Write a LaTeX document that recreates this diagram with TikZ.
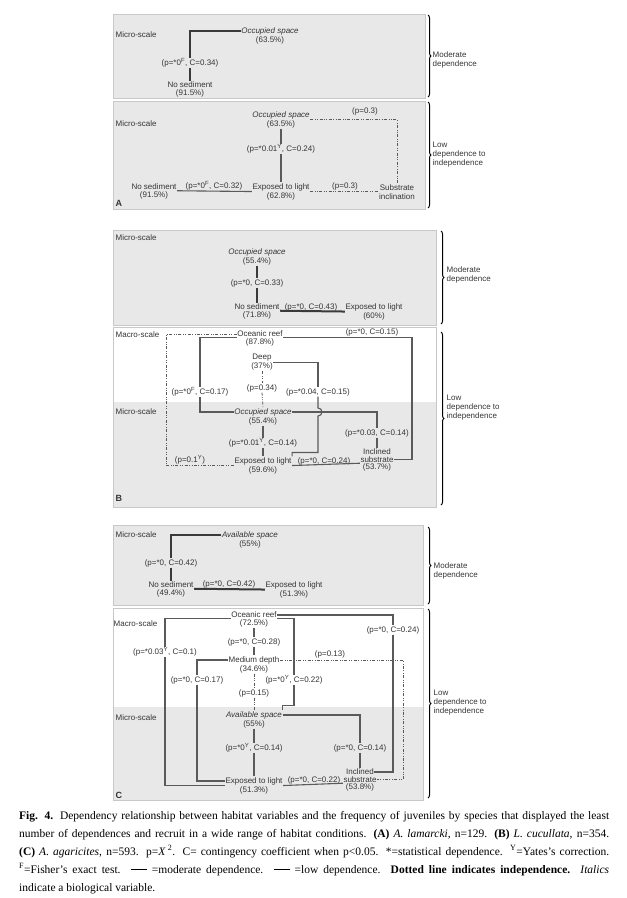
\documentclass[tikz,border=0pt]{standalone}
\usepackage{fontspec}
\setmainfont{Liberation Serif}
\setsansfont{Liberation Sans}
\usetikzlibrary{positioning, decorations.pathreplacing}
\definecolor{boxgray}{HTML}{E8E8E8}
\definecolor{edgegray}{HTML}{C8C8C8}
\definecolor{txtgray}{HTML}{353535}
\definecolor{modcol}{HTML}{3A3A3A}
\definecolor{lowcol}{HTML}{5A5A5A}

\begin{document}
\begin{tikzpicture}[x=1pt, y=-1pt,
    every node/.style={font=\sffamily\fontsize{8}{9}\selectfont, text=txtgray, inner xsep=0.5pt, inner ysep=0.6pt},
    bio/.style={font=\sffamily\itshape\fontsize{8}{9}\selectfont},
    scalelab/.style={anchor=west},
    dep/.style={align=left, anchor=west},
    panel/.style={fill=boxgray, draw=edgegray, line width=0.6pt},
    modline/.style={draw=modcol, line width=2pt},
    lowline/.style={draw=lowcol, line width=1.1pt},
    indline/.style={draw=lowcol, line width=0.8pt, dash pattern=on 3pt off 1.6pt on 0.7pt off 1.6pt on 0.7pt off 1.6pt},
    bracestyle/.style={draw=black, line width=1pt, decorate, decoration={brace, amplitude=3pt}},
    letter/.style={font=\sffamily\bfseries\fontsize{9}{10}\selectfont, anchor=west}]
\useasboundingbox (0,0) rectangle (627,898);

% panel A
\draw[panel] (113,14) rectangle (425,98);
\draw[panel] (113,101) rectangle (425,209);
\draw[bracestyle] (428,15) -- (428,97);
\draw[bracestyle] (428,102) -- (428,208);
\node[dep] (modA) at (432,60) {Moderate\\dependence};
\node[dep] (lowA) at (432,155) {Low\\dependence to\\independence};

\node[scalelab] (micA1) at (115,35) {Micro-scale};
\node[bio] (occA1) at (270,31) {Occupied space};
\node[below=0pt of occA1] (occA1p) {(63.5\%)};
\node (pA1) at (190,63) {(p=*0\textsuperscript{F}, C=0.34)};
\node (sedA1) at (190,85) {No sediment};
\node[below=0pt of sedA1] (sedA1p) {(91.5\%)};
\draw[modline] (occA1.west) -| (pA1.north);
\draw[modline] (pA1.south) -- (sedA1.north);

\node[scalelab] (micA2) at (115,124) {Micro-scale};
\node[bio] (occA2) at (281,115) {Occupied space};
\node[below=0pt of occA2] (occA2p) {(63.5\%)};
\node (pA2) at (281,149) {(p=*0.01\textsuperscript{Y}, C=0.24)};
\node (lightA) at (281,187) {Exposed to light};
\node[below=0pt of lightA] (lightAp) {(62.8\%)};
\node (sedA2) at (154,187) {No sediment};
\node[below=0pt of sedA2] (sedA2p) {(91.5\%)};
\node (pA3) at (214,186) {(p=*0\textsuperscript{F}, C=0.32)};
\node[align=center] (incA) at (397,192) {Substrate\\inclination};
\node (pA4) at (345,186) {(p=0.3)};
\node (pA5) at (365,111) {(p=0.3)};
\draw[lowline] (occA2p.south) -- (pA2.north);
\draw[lowline] (pA2.south) -- (lightA.north);
\draw[lowline] (sedA2.south east) -- (lightA.south west);
\draw[indline] (lightA.south east) -- (lightA.south east -| incA.west);
\draw[indline] (occA2.south east) -| (incA.north);
\node[letter] (labA) at (115,203) {A};

% panel B
\draw[panel] (113,230) rectangle (436,325);
\draw[panel, fill=white] (113,327) rectangle (436,507);
\fill[boxgray] (113,402) rectangle (436,507);
\draw[draw=edgegray, line width=0.6pt] (113,327) rectangle (436,507);
\draw[bracestyle] (441,231) -- (441,324);
\draw[bracestyle] (441,332) -- (441,505);
\node[dep] (modB) at (446,275) {Moderate\\dependence};
\node[dep] (lowB) at (446,408) {Low\\dependence to\\independence};

\node[scalelab] (micB1) at (115,238) {Micro-scale};
\node[bio] (occB1) at (257,252) {Occupied space};
\node[below=0pt of occB1] (occB1p) {(55.4\%)};
\node (pB1) at (257,283) {(p=*0, C=0.33)};
\node (sedB) at (257,307) {No sediment};
\node[below=0pt of sedB] (sedBp) {(71.8\%)};
\node (pB2) at (311,307) {(p=*0, C=0.43)};
\node (lightB1) at (374,307) {Exposed to light};
\node[below=0pt of lightB1] (lightB1p) {(60\%)};
\draw[modline] (occB1p.south) -- (pB1.north);
\draw[modline] (pB1.south) -- (sedB.north);
\draw[modline] (sedB.south east) -- (lightB1.south west);

\node[scalelab] (macB) at (115,335) {Macro-scale};
\node (reefB) at (260,334) {Oceanic reef};
\node[below=0pt of reefB] (reefBp) {(87.8\%)};
\node (pB3) at (372,332) {(p=*0, C=0.15)};
\node (deepB) at (262,358) {Deep};
\node[below=0pt of deepB] (deepBp) {(37\%)};
\node (pB4) at (200,392) {(p=*0\textsuperscript{F}, C=0.17)};
\node (pB5) at (262,388) {(p=0.34)};
\node (pB6) at (318,392) {(p=*0.04, C=0.15)};
\node[scalelab] (micB2) at (115,412) {Micro-scale};
\node[bio] (occB2) at (263,412) {Occupied space};
\node[below=0pt of occB2] (occB2p) {(55.4\%)};
\node (pB7) at (377,433) {(p=*0.03, C=0.14)};
\node (incB) at (377,452) {Inclined};
\node[below=0pt of incB] (incBs) {substrate};
\node[below=0pt of incBs] (incBp) {(53.7\%)};
\node (pB9) at (263,443) {(p=*0.01\textsuperscript{Y}, C=0.14)};
\node (lightB2) at (263,461) {Exposed to light};
\node[below=0pt of lightB2] (lightB2p) {(59.6\%)};
\node (pB8) at (324,461) {(p=*0, C=0.24)};
\node (pB10) at (190,460) {(p=0.1\textsuperscript{Y})};
\coordinate (dotB) at (166,400);
\coordinate (rimB) at (412,400);
\draw[indline] (reefB.west) -| (dotB |- lightB2.south west) -- (lightB2.south west);
\draw[lowline] (reefB.south west) -| (pB4.north);
\draw[lowline] (pB4.south) |- (occB2.west);
\draw[lowline] (reefB.south east) -| (rimB |- incBs.east) -- (incBs.east);
\draw[indline] (deepBp.south) -- (pB5.north);
\draw[indline] (pB5.south) -- (occB2.north);
\draw[lowline] (deepBp.north east) -| (pB6.north);
\draw[lowline] (pB6.south) -- ([yshift=4pt]pB6.south |- occB2.east) arc[start angle=90, end angle=-90, radius=4pt] |- ([yshift=4pt]lightB2.north east) -- (lightB2.north east);
\draw[lowline] (occB2.east) -| (pB7.north);
\draw[lowline] (pB7.south) -- (incB.north);
\draw[lowline] (occB2p.south) -- (pB9.north);
\draw[lowline] (pB9.south) -- (lightB2.north);
\draw[lowline] (lightB2.south east) -- (incBs.south west);
\node[letter] (labB) at (115,498) {B};

% panel C
\draw[panel] (113,525) rectangle (423,605);
\draw[panel, fill=white] (113,608) rectangle (423,800);
\fill[boxgray] (113,707) rectangle (423,800);
\draw[draw=edgegray, line width=0.6pt] (113,608) rectangle (423,800);
\draw[bracestyle] (428,527) -- (428,604);
\draw[bracestyle] (428,609) -- (428,798);
\node[dep] (modC) at (433,571) {Moderate\\dependence};
\node[dep] (lowC) at (433,703) {Low\\dependence to\\independence};

\node[scalelab] (micC1) at (115,535) {Micro-scale};
\node[bio] (avC1) at (250,535) {Available space};
\node[below=0pt of avC1] (avC1p) {(55\%)};
\node (pC1) at (171,563) {(p=*0, C=0.42)};
\node (sedC) at (171,585) {No sediment};
\node[below=0pt of sedC] (sedCp) {(49.4\%)};
\node (pC2) at (229,584) {(p=*0, C=0.42)};
\node (lightC1) at (294,585) {Exposed to light};
\node[below=0pt of lightC1] (lightC1p) {(51.3\%)};
\draw[modline] (avC1.west) -| (pC1.north);
\draw[modline] (pC1.south) -- (sedC.north);
\draw[modline] (sedC.south east) -- (lightC1.south west);

\node[scalelab] (macC) at (113,624) {Macro-scale};
\node (reefC) at (254,615) {Oceanic reef};
\node[below=0pt of reefC] (reefCp) {(72.5\%)};
\node (pC3) at (393,630) {(p=*0, C=0.24)};
\node (pC4) at (254,642) {(p=*0, C=0.28)};
\node (pC5) at (165,652) {(p=*0.03\textsuperscript{Y}, C=0.1)};
\node (mdC) at (254,660) {Medium depth};
\node[below=0pt of mdC] (mdCp) {(34.6\%)};
\node (pC6) at (330,654) {(p=0.13)};
\node (pC7) at (197,680) {(p=*0, C=0.17)};
\node (pC8) at (294,680) {(p=*0\textsuperscript{Y}, C=0.22)};
\node (pC9) at (254,693) {(p=0.15)};
\node[scalelab] (micC2) at (115,718) {Micro-scale};
\node[bio] (avC2) at (254,715) {Available space};
\node[below=0pt of avC2] (avC2p) {(55\%)};
\node (pC10) at (360,748) {(p=*0, C=0.14)};
\node (pC11) at (254,748) {(p=*0\textsuperscript{Y}, C=0.14)};
\node (incC) at (360,772) {Inclined};
\node[below=0pt of incC] (incCs) {substrate};
\node[below=0pt of incCs] (incCp) {(53.8\%)};
\node (lightC2) at (254,781) {Exposed to light};
\node[below=0pt of lightC2] (lightC2p) {(51.3\%)};
\node (pC12) at (314,780) {(p=*0, C=0.22)};
\coordinate (rimC) at (403,700);
\draw[lowline] (reefC.south west) -| (pC5.north);
\draw[lowline] (pC5.south) |- (lightC2.south west);
\draw[lowline] (reefC.east) -| (pC3.north);
\draw[lowline] (pC3.south) |- (incC.east);
\draw[lowline] (reefC.south east) -| (pC8.north);
\draw[lowline] (pC8.south) |- ([yshift=5pt]avC2.north east) -- (avC2.north east);
\draw[lowline] (reefCp.south) -- (pC4.north);
\draw[lowline] (pC4.south) -- (mdC.north);
\draw[lowline] (mdC.west) -| (pC7.north);
\draw[lowline] (pC7.south) |- (lightC2.west);
\draw[indline] (mdC.east) -| (rimC |- incCs.east) -- (incCs.east);
\draw[indline] (mdCp.south) -- (pC9.north);
\draw[indline] (pC9.south) -- (avC2.north);
\draw[lowline] (avC2.east) -| (pC10.north);
\draw[lowline] (pC10.south) -- (incC.north);
\draw[lowline] (avC2p.south) -- (pC11.north);
\draw[lowline] (pC11.south) -- (lightC2.north);
\draw[lowline] (lightC2.south east) -- (incCs.south west);
\node[letter] (labC) at (115,795) {C};

% caption
\node[anchor=north west, text width=590pt, align=justify, inner sep=0pt, text=black,
      font=\rmfamily\fontsize{11.5}{18}\selectfont] (capt) at (19,811)
  {\textbf{Fig. 4.} Dependency relationship between habitat variables and the frequency of juveniles by species that displayed the least\linebreak
   number of dependences and recruit in a wide range of habitat conditions. \textbf{(A)} \textit{A. lamarcki}, n=129. \textbf{(B)} \textit{L. cucullata}, n=354.\linebreak
   \textbf{(C)} \textit{A. agaricites}, n=593. p=\textit{X}\,\textsuperscript{2}. C= contingency coefficient when p<0.05. *=statistical dependence. \textsuperscript{Y}=Yates’s correction.\linebreak
   \textsuperscript{F}=Fisher’s exact test. \rule[0.3em]{1.4em}{0.9pt} =moderate dependence. \rule[0.3em]{1.4em}{0.5pt} =low dependence. \textbf{Dotted line indicates independence.} \textit{Italics}\linebreak
   indicate a biological variable.};
\end{tikzpicture}
\end{document}
